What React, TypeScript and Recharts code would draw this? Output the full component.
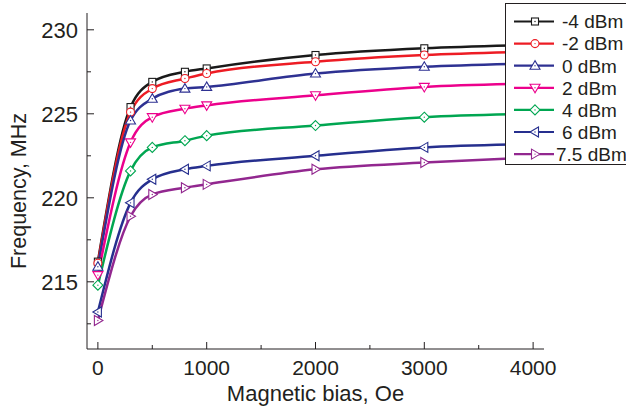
import React from 'react';
import { LineChart, Line, XAxis, YAxis } from 'recharts';

// magnetic bias (Oe) and resonance frequency (MHz) for each input power
const bias = [0, 300, 500, 800, 1000, 2000, 3000, 4000];
const fM4 = [216.2, 225.4, 226.9, 227.5, 227.7, 228.5, 228.9, 229.1];
const fM2 = [216.1, 225.1, 226.5, 227.1, 227.4, 228.1, 228.5, 228.7];
const fP0 = [215.9, 224.6, 225.9, 226.5, 226.6, 227.4, 227.8, 228.0];
const fP2 = [215.4, 223.3, 224.8, 225.3, 225.5, 226.1, 226.6, 226.8];
const fP4 = [214.8, 221.6, 223.0, 223.4, 223.7, 224.3, 224.8, 225.0];
const fP6 = [213.2, 219.7, 221.1, 221.7, 221.9, 222.5, 223.0, 223.2];
const fP75 = [212.7, 218.9, 220.2, 220.6, 220.8, 221.7, 222.1, 222.4];

const xTicks = [0, 500, 1000, 1500, 2000, 2500, 3000, 3500, 4000];
const yTicks = [212.5, 215, 217.5, 220, 222.5, 225, 227.5, 230];

const series = [
  { key: 'm4', name: '-4 dBm', values: fM4, color: '#1a1a1a', shape: 'square' },
  { key: 'm2', name: '-2 dBm', values: fM2, color: '#ed1c24', shape: 'circle' },
  { key: 'p0', name: '0 dBm', values: fP0, color: '#2e3192', shape: 'up' },
  { key: 'p2', name: '2 dBm', values: fP2, color: '#ec008c', shape: 'down' },
  { key: 'p4', name: '4 dBm', values: fP4, color: '#00a651', shape: 'diamond' },
  { key: 'p6', name: '6 dBm', values: fP6, color: '#262f8e', shape: 'left' },
  { key: 'p75', name: '7.5 dBm', values: fP75, color: '#92278f', shape: 'right' },
];

const data = bias.map((b, i) => {
  const row: Record<string, number> = { bias: b };
  series.forEach((s) => (row[s.key] = s.values[i]));
  return row;
});

const ink = '#231f20';
const font = '"Liberation Sans", Arial, sans-serif';

const Marker = ({ cx, cy, shape, color }: { cx: number; cy: number; shape: string; color: string }) => {
  const p = { fill: '#fff', stroke: color, strokeWidth: 1.1 };
  let body;
  if (shape === 'square') body = <rect x={cx - 3.5} y={cy - 3.5} width={7} height={7} {...p} />;
  else if (shape === 'circle') body = <circle cx={cx} cy={cy} r={4} {...p} />;
  else if (shape === 'up') body = <polygon points={`${cx},${cy - 5} ${cx - 5},${cy + 3.5} ${cx + 5},${cy + 3.5}`} {...p} />;
  else if (shape === 'down') body = <polygon points={`${cx},${cy + 5} ${cx - 5},${cy - 3.5} ${cx + 5},${cy - 3.5}`} {...p} />;
  else if (shape === 'diamond') body = <polygon points={`${cx},${cy - 5} ${cx + 5},${cy} ${cx},${cy + 5} ${cx - 5},${cy}`} {...p} />;
  else if (shape === 'left') body = <polygon points={`${cx - 5},${cy} ${cx + 3.5},${cy - 5} ${cx + 3.5},${cy + 5}`} {...p} />;
  else body = <polygon points={`${cx + 5},${cy} ${cx - 3.5},${cy - 5} ${cx - 3.5},${cy + 5}`} {...p} />;
  return (
    <g>
      {body}
      <circle cx={cx} cy={cy} r={0.7} fill={color} />
    </g>
  );
};

const BottomTick = ({ x, y, payload }: any) => {
  const major = payload.value % 1000 === 0;
  return (
    <g>
      <line x1={x} x2={x} y1={y} y2={y - (major ? 7 : 4)} stroke={ink} />
      {major && (
        <text x={x} y={y + 26} textAnchor="middle" fontSize={21} fill={ink} fontFamily={font}>
          {payload.value}
        </text>
      )}
    </g>
  );
};

const TopTick = ({ x, y, payload }: any) => {
  const major = payload.value % 1000 === 0;
  return <line x1={x} x2={x} y1={y} y2={y + (major ? 7 : 4)} stroke={ink} />;
};

const LeftTick = ({ x, y, payload }: any) => {
  const major = payload.value % 5 === 0;
  return (
    <g>
      <line x1={x} x2={x + (major ? 7 : 4)} y1={y} y2={y} stroke={ink} />
      {major && (
        <text x={x - 9} y={y} dy="0.36em" textAnchor="end" fontSize={22} fill={ink} fontFamily={font}>
          {payload.value}
        </text>
      )}
    </g>
  );
};

const RightTick = ({ x, y, payload }: any) => {
  const major = payload.value % 5 === 0;
  return <line x1={x} x2={x - (major ? 7 : 4)} y1={y} y2={y} stroke={ink} />;
};

const YTitle = ({ viewBox }: any) => {
  const cx = 26;
  const cy = viewBox.y + viewBox.height / 2 + 10;
  return (
    <text x={cx} y={cy} transform={`rotate(-90 ${cx} ${cy})`} textAnchor="middle" fontSize={21.5} fill={ink} fontFamily={font}>
      Frequency, MHz
    </text>
  );
};

const XTitle = ({ viewBox }: any) => (
  <text x={viewBox.x + viewBox.width / 2} y={401} textAnchor="middle" fontSize={22} fill={ink} fontFamily={font}>
    Magnetic bias, Oe
  </text>
);

const LegendBox = () => (
  <div
    style={{
      position: 'absolute',
      left: 505,
      top: 3,
      width: 124,
      height: 160,
      border: `1px solid ${ink}`,
      background: '#fff',
    }}
  >
    <svg width={124} height={160} style={{ display: 'block' }}>
      {series.map((s, i) => {
        const y = 17.5 + i * 22.1;
        return (
          <g key={s.key}>
            <line x1={8} x2={48} y1={y} y2={y} stroke={s.color} strokeWidth={2.2} />
            <Marker cx={29} cy={y} shape={s.shape} color={s.color} />
            <text x={s.name.length > 6 ? 50 : 56} y={y} dy="0.36em" fontSize={19} fill={ink} fontFamily={font}>
              {s.name}
            </text>
          </g>
        );
      })}
    </svg>
  </div>
);

export default function App() {
  return (
    <div style={{ position: 'absolute', left: 0, top: 0, width: 626, height: 414, background: '#fff', overflow: 'hidden' }}>
      <LineChart width={626} height={414} data={data} margin={{ top: 13, right: 82, bottom: 0, left: 0 }}>
        <XAxis
          dataKey="bias"
          type="number"
          domain={[-100, 4100]}
          ticks={xTicks}
          interval={0}
          tickSize={0}
          tickMargin={0}
          tickLine={false}
          tick={<BottomTick />}
          height={65}
          stroke={ink}
          allowDataOverflow
          label={<XTitle />}
        />
        <XAxis
          xAxisId="top"
          orientation="top"
          dataKey="bias"
          type="number"
          domain={[-100, 4100]}
          ticks={xTicks}
          interval={0}
          tickSize={0}
          tickMargin={0}
          tickLine={false}
          tick={<TopTick />}
          height={0}
          stroke={ink}
          allowDataOverflow
        />
        <YAxis
          type="number"
          domain={[211, 231]}
          ticks={yTicks}
          interval={0}
          tickSize={0}
          tickMargin={0}
          tickLine={false}
          tick={<LeftTick />}
          width={87}
          stroke={ink}
          allowDataOverflow
          label={<YTitle />}
        />
        <YAxis
          yAxisId="right"
          orientation="right"
          type="number"
          domain={[211, 231]}
          ticks={yTicks}
          interval={0}
          tickSize={0}
          tickMargin={0}
          tickLine={false}
          tick={<RightTick />}
          width={0}
          stroke={ink}
          allowDataOverflow
        />
        {series.map((s) => (
          <Line
            key={s.key}
            dataKey={s.key}
            name={s.name}
            type="monotone"
            stroke={s.color}
            strokeWidth={2.5}
            isAnimationActive={false}
            dot={(props: any) => <Marker key={props.key} cx={props.cx} cy={props.cy} shape={s.shape} color={s.color} />}
            activeDot={false}
          />
        ))}
      </LineChart>
      <LegendBox />
    </div>
  );
}
